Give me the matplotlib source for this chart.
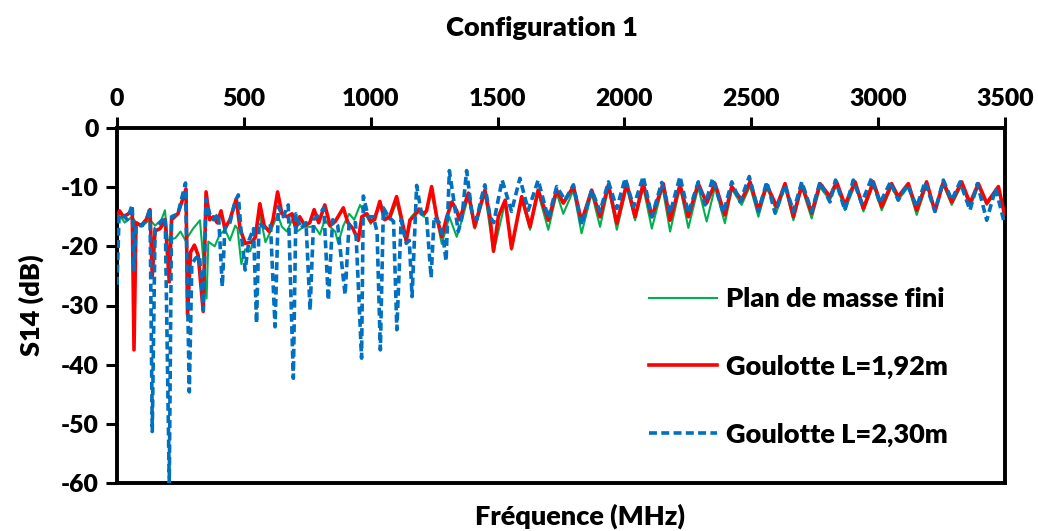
import matplotlib
matplotlib.use("Agg")
import matplotlib.pyplot as plt

plt.rcParams['font.family'] = ['Lato', 'DejaVu Sans']
plt.rcParams['font.weight'] = 'bold'
plt.rcParams['axes.unicode_minus'] = False

title = "Configuration 1"
xlabel = "Fréquence (MHz)"
ylabel = "S14 (dB)"
labels = ["Plan de masse fini", "Goulotte L=1,92m", "Goulotte L=2,30m"]
xticks = [0, 500, 1000, 1500, 2000, 2500, 3000, 3500]
yticks = [0, -10, -20, -30, -40, -50, -60]

# Plan de masse fini
freq_plan = [0, 15, 30, 45, 60, 75, 100, 130, 150, 175, 189, 200, 230, 250, 270, 300, 327, 353, 360,
             385, 405, 426, 445, 466, 475, 490, 505, 525, 545, 563, 585, 605, 633, 650, 670, 690,
             710, 735, 780, 800, 819, 840, 860, 872, 892, 915, 935, 958, 985, 1000, 1036, 1075,
             1102, 1140, 1160, 1181, 1210, 1240, 1280, 1310, 1339, 1360, 1385, 1410, 1450, 1484,
             1530, 1555, 1595, 1628, 1660, 1700, 1733, 1759, 1799, 1831, 1871, 1904, 1937, 1970,
             2009, 2042, 2074, 2108, 2150, 2180, 2219, 2252, 2291, 2324, 2357, 2396, 2423, 2462,
             2495, 2528, 2561, 2600, 2633, 2666, 2699, 2738, 2771, 2810, 2836, 2869, 2909, 2942,
             2981, 3014, 3053, 3079, 3119, 3152, 3191, 3224, 3257, 3290, 3329, 3362, 3395, 3428,
             3474, 3500]
s14_plan = [-15.5, -15, -16, -15.5, -15, -16, -16.5, -15.5, -16.5, -15.5, -13.9, -19, -18.6, -17.5,
            -19, -17, -15.6, -28.8, -19.2, -20, -18, -17.2, -19, -16.5, -17, -23, -20.5, -20.8, -18,
            -14.6, -19.3, -17.5, -14.6, -16.7, -17.5, -15.5, -17.5, -16.7, -16.7, -18, -15.5, -16.7,
            -17.5, -19.5, -16.5, -14.5, -15.5, -13, -15, -16.2, -13, -15.5, -12.5, -19.5, -15, -14,
            -15, -11, -19.6, -15, -18.4, -15.5, -11.5, -17, -11, -21, -12.5, -20.6, -12, -17.2, -11,
            -17.2, -11, -14.5, -10.5, -17.8, -11, -16.7, -10, -17.2, -10, -15.6, -10, -17.0, -10,
            -17.5, -10, -16.9, -10, -15.8, -10, -16.1, -10.3, -13.0, -9.8, -15.0, -10, -14.1, -10,
            -15.6, -10, -15.3, -10, -12.2, -9.6, -13.9, -9.6, -14.1, -9.6, -13.9, -9.9, -12.2, -9.9,
            -14.7, -9.6, -13.9, -9.6, -13, -9.6, -13.3, -9.9, -13, -10.2, -15]

# Goulotte L=1,92m
freq_192 = [0, 10, 25, 45, 60, 67, 75, 95, 115, 130, 139, 150, 170, 190, 206, 215, 240, 272, 278,
            290, 305, 320, 340, 351, 365, 380, 395, 410, 425, 445, 470, 485, 505, 530, 545, 563,
            580, 600, 615, 633, 650, 670, 690, 705, 720, 740, 760, 777, 795, 819, 840, 860, 892,
            910, 930, 951, 965, 985, 1000, 1015, 1036, 1055, 1075, 1102, 1120, 1140, 1155, 1170,
            1190, 1210, 1220, 1240, 1260, 1280, 1300, 1320, 1339, 1350, 1385, 1410, 1430, 1450,
            1470, 1484, 1503, 1530, 1555, 1595, 1628, 1660, 1700, 1733, 1759, 1799, 1831, 1871,
            1904, 1937, 1970, 2009, 2042, 2074, 2108, 2153, 2180, 2219, 2252, 2291, 2324, 2357,
            2396, 2423, 2462, 2495, 2528, 2561, 2600, 2633, 2666, 2699, 2738, 2771, 2810, 2836,
            2869, 2909, 2942, 2981, 3014, 3053, 3079, 3119, 3152, 3191, 3224, 3257, 3290, 3329,
            3362, 3395, 3428, 3474, 3500]
s14_192 = [-15, -14, -15, -14.5, -13.8, -37.5, -16, -16.5, -15.5, -13.8, -25, -17.4, -17, -15.5,
           -26, -15.5, -14.5, -10.3, -31.6, -21, -19.8, -21.5, -31, -10.8, -15.5, -15, -16, -14,
           -17, -15.5, -12, -17, -19.5, -19.3, -18.5, -12.8, -16.5, -17.5, -15.5, -10.8, -14.5,
           -15, -14.5, -17, -15, -16.5, -16, -13.8, -16, -13, -16.5, -15.8, -13.5, -16, -17, -19,
           -15, -14.5, -15.8, -15.5, -12.4, -15.5, -15, -11.6, -15, -19, -15.5, -15, -13.7, -14.5,
           -14, -9.9, -15, -18.4, -15, -12.5, -14, -15.5, -11, -16.7, -13.5, -10.5, -15, -20.8,
           -15, -12.2, -20.3, -11.6, -16.7, -10.5, -15.6, -10.5, -12.7, -9.9, -15.8, -10.5, -15.0,
           -9.6, -16.1, -9.4, -15.0, -9.4, -15.0, -9.4, -15.6, -9.6, -15.0, -9.4, -12.7, -9.4,
           -14.7, -9.9, -12.2, -9.1, -13.9, -9.6, -13.3, -9.4, -15.0, -9.6, -14.4, -9.4, -11.6,
           -9.1, -13.0, -9.1, -13.6, -9.1, -13.3, -9.4, -11.6, -9.4, -13.9, -9.1, -14.1, -9.1,
           -12.5, -9.1, -12.7, -9.4, -12.7, -9.9, -15]

# Goulotte L=2,30m
freq_230 = [0, 8, 20, 40, 60, 67, 75, 100, 120, 130, 139, 150, 170, 190, 206, 215, 240, 270, 285,
            295, 310, 325, 340, 351, 365, 380, 400, 415, 425, 445, 465, 478, 490, 505, 520, 538,
            550, 560, 585, 605, 623, 636, 655, 675, 695, 705, 725, 745, 761, 775, 800, 815, 833,
            850, 870, 899, 915, 940, 964, 971, 990, 1010, 1025, 1038, 1050, 1070, 1090, 1103,
            1120, 1140, 1152, 1163, 1181, 1200, 1220, 1238, 1250, 1270, 1285, 1297, 1310, 1330,
            1345, 1360, 1378, 1398, 1418, 1435, 1450, 1470, 1485, 1503, 1518, 1555, 1588, 1621,
            1660, 1700, 1733, 1766, 1799, 1831, 1871, 1904, 1937, 1970, 2003, 2036, 2074, 2108,
            2147, 2180, 2219, 2252, 2291, 2318, 2348, 2390, 2423, 2456, 2492, 2528, 2561, 2594,
            2633, 2666, 2699, 2738, 2771, 2810, 2832, 2869, 2902, 2935, 2974, 3007, 3049, 3079,
            3115, 3152, 3185, 3224, 3257, 3290, 3323, 3362, 3391, 3428, 3463, 3496]
s14_230 = [-26.5, -15, -14.5, -15.5, -13, -24, -16.5, -16.5, -15, -13.5, -51.3, -17, -16, -15, -60,
           -15, -14.5, -9.3, -44.6, -23, -22, -21.5, -30.8, -12, -14.5, -15.5, -14.5, -26.8, -17,
           -16, -12.5, -11.3, -18, -24, -19, -17, -33, -16, -17, -16.5, -33.6, -13.3, -15, -13,
           -42.3, -14.5, -17, -16, -30.8, -15.5, -14.5, -13.5, -29.1, -15.5, -16.5, -28.2, -16,
           -16, -38.9, -11.5, -15, -15, -17.5, -37.5, -13.5, -15, -15.8, -34.1, -15.5, -19.5, -19,
           -28.5, -9.7, -14.5, -15, -25.3, -15, -16, -18.4, -22.5, -7.2, -13, -17.5, -15, -7.2,
           -14, -15.5, -12, -9.6, -15, -16, -12, -8.8, -14.1, -8.5, -13.9, -8.8, -15.3, -9.9,
           -12.2, -9.6, -16.4, -10.5, -14.1, -9.1, -13.6, -8.5, -13.3, -8.2, -15.0, -9.2, -14.4,
           -8.2, -14.4, -9.1, -13.0, -8.5, -14.4, -9.1, -12.5, -8.2, -14.1, -9.1, -14.4, -9.6,
           -14.1, -9.1, -14.1, -9.1, -12.5, -8.8, -13.9, -8.8, -12.7, -8.5, -12.7, -9.1, -12.2,
           -9.6, -13.3, -9.1, -14.1, -8.8, -12.2, -9.1, -13.9, -9.4, -15.6, -10.2, -15.8]

fig = plt.figure(figsize=(10.38, 5.31), dpi=100)
ax = fig.add_axes([117/1038, 1 - 483/531, (1005-117)/1038, (483-128)/531])

ax.plot(freq_plan, s14_plan, color='#00B050', lw=1.5, label=labels[0], zorder=2)
ax.plot(freq_192, s14_192, color='#FF0000', lw=2.6, label=labels[1], zorder=3)
ax.plot(freq_230, s14_230, color='#0070C0', lw=2.6, ls=(0, (2.2, 1.2)), label=labels[2], zorder=4)

ax.set_xlim(0, 3500)
ax.set_ylim(-60, 0)
ax.xaxis.tick_top()
ax.set_xticks(xticks)
ax.set_yticks(yticks)
ax.tick_params(axis='x', direction='out', length=8, width=2.2, labelsize=17.8, pad=5)
ax.tick_params(axis='y', direction='out', length=8, width=2.2, labelsize=17.8, pad=5)
for lab in ax.get_xticklabels() + ax.get_yticklabels():
    lab.set_fontweight('heavy')
for sp in ax.spines.values():
    sp.set_linewidth(2.8)
    sp.set_color('black')

ax.set_ylabel(ylabel, fontsize=19.5, fontweight='heavy', labelpad=12)
fig.text(580/1038, 1 - 516/531, xlabel, ha='center', va='center', fontsize=19.5, fontweight='heavy')
fig.text(0.522, 1 - 28/531, title, ha='center', va='center', fontsize=19.5, fontweight='heavy')

leg = ax.legend(loc='upper left', bbox_to_anchor=(0.572, 0.62), frameon=False,
                prop={'size': 19.5, 'weight': 'heavy'}, handlelength=2.5, labelspacing=1.6,
                handletextpad=0.33)

fig.savefig('out.png', dpi=100)
